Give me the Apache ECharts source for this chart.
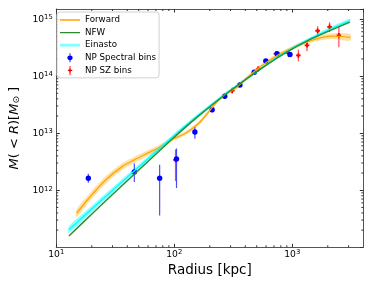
<!DOCTYPE html>
<html><head><meta charset="utf-8">
<script src="https://cdn.jsdelivr.net/npm/echarts@6/dist/echarts.min.js"></script>
<style>html,body{margin:0;padding:0;background:#fff}#c{width:374px;height:288px}</style>
</head><body><div id="c"></div>
<script>
// ---- axis ranges / ticks ----
const X_MIN = 10, X_MAX = 4000;
const Y_MIN = 1e11, Y_MAX = 1.5e15;
const xMajorTicks = [10, 100, 1000];
const yMajorTicks = [1e12, 1e13, 1e14, 1e15];

// ---- NP Spectral bins (blue) ----
const specR  = [18.7, 45.9, 75.2, 104.5, 149.6, 209.5, 268, 360, 476, 597, 744, 957];
const specM  = [1.62e12, 2.09e12, 1.62e12, 3.53e12, 1.05e13, 2.57e13, 4.43e13, 6.98e13, 1.17e14, 1.84e14, 2.47e14, 2.40e14];
const specLo = [1.35e12, 1.40e12, 3.6e11, 1.1e12, 8.0e12, 2.3e13, 4.0e13, 6.4e13, 1.07e14, 1.70e14, 2.28e14, 2.15e14];
const specHi = [1.95e12, 2.95e12, 2.8e12, 5.4e12, 1.28e13, 2.85e13, 4.9e13, 7.6e13, 1.28e14, 2.0e14, 2.67e14, 2.65e14];

// ---- NP SZ bins (red) ----
const szR  = [102.5, 310, 514, 726, 929, 1127, 1334, 1641, 2070, 2483];
const szM  = [3.4e12, 5.55e13, 1.33e14, 2.47e14, 2.54e14, 2.30e14, 3.47e14, 6.24e14, 7.32e14, 5.19e14];
const szLo = [1.45e12, 4.9e13, 1.18e14, 2.25e14, 2.15e14, 1.82e14, 2.72e14, 4.97e14, 5.9e14, 3.19e14];
const szHi = [5.2e12, 6.3e13, 1.5e14, 2.7e14, 2.95e14, 2.9e14, 4.24e14, 7.45e14, 8.75e14, 7.25e14];

// ---- Forward model (orange) ----
const fwdR = [14.9, 18.9, 26.2, 36.2, 45.9, 60.7, 78.7, 96.2, 124.5, 161.4, 196.3, 223.4, 271, 329, 485, 716, 1057, 1556, 2153, 3097];
const fwdM = [3.95e11, 7.24e11, 1.51e12, 2.59e12, 3.40e12, 4.55e12, 5.97e12, 7.82e12, 9.95e12, 1.49e13, 2.38e13, 3.34e13, 4.80e13, 6.11e13, 1.245e14, 2.19e14, 3.27e14, 4.41e14, 5.01e14, 4.79e14];
const fwdW = [0.07, 0.07, 0.065, 0.06, 0.055, 0.05, 0.045, 0.04, 0.035, 0.035, 0.035, 0.035, 0.035, 0.035, 0.035, 0.035, 0.035, 0.04, 0.05, 0.06]; // band half-width, dex

// ---- NFW (green) ----
const nfwR = [12.8, 19.95, 31.6, 56.2, 96.2, 158.5, 280, 501, 815, 1462, 3076];
const nfwM = [1.58e11, 3.80e11, 9.33e11, 2.82e12, 7.91e12, 1.95e13, 5.0e13, 1.2e14, 2.34e14, 4.52e14, 8.85e14];

// ---- Einasto (cyan) ----
const einR = [12.8, 19.95, 31.6, 56.2, 96.2, 158.5, 280, 501, 815, 1462, 3076];
const einM = [2.04e11, 4.68e11, 1.10e12, 3.16e12, 8.51e12, 2.04e13, 5.13e13, 1.2e14, 2.4e14, 4.68e14, 9.44e14];
const einW = [0.06, 0.055, 0.05, 0.045, 0.035, 0.03, 0.025, 0.025, 0.025, 0.03, 0.035];

const FONT = 'DejaVu Sans';
const xMinor = [], yMinor = [];
for (const d of [10, 100, 1000]) for (let k = 2; k <= 9; k++) if (k * d < X_MAX) xMinor.push(k * d);
for (const d of [1e11, 1e12, 1e13, 1e14]) for (let k = 2; k <= 9; k++) yMinor.push(k * d);

function pow10Label(majors) {
  return function (v) {
    for (const m of majors) {
      if (Math.abs(v / m - 1) < 1e-6) return '{b|10}{s|' + Math.round(Math.log10(m)) + '}';
    }
    return '';
  };
}
const labelRich = {
  b: { fontSize: 9.2, fontFamily: FONT, color: '#000', lineHeight: 10, padding: [1.5, 0, 0, 0], verticalAlign: 'bottom' },
  s: { fontSize: 6.8, fontFamily: FONT, color: '#000', lineHeight: 7, verticalAlign: 'top' }
};

function bandSeries(R, M, W, color) {
  return {
    type: 'custom', silent: true, clip: true, data: [[100, 1e13]],
    renderItem: function (params, api) {
      const up = [], dn = [];
      for (let i = 0; i < R.length; i++) {
        up.push(api.coord([R[i], M[i] * Math.pow(10, W[i])]));
        dn.push(api.coord([R[i], M[i] / Math.pow(10, W[i])]));
      }
      return { type: 'polygon', shape: { points: up.concat(dn.reverse()), smooth: 0.25 }, style: { fill: color } };
    }
  };
}
function lineSeries(name, R, M, color, width) {
  return {
    name: name, type: 'line', data: R.map((r, i) => [r, M[i]]), smooth: 0.3, symbol: 'none', showSymbol: false,
    lineStyle: { color: color, width: width }, itemStyle: { color: color }, silent: true
  };
}
function errSeries(name, R, M, Lo, Hi, color, marker) {
  return {
    name: name, type: 'custom', clip: true, itemStyle: { color: color },
    encode: { x: 0, y: 1 },
    data: R.map((r, i) => [r, M[i], Lo[i], Hi[i]]),
    renderItem: function (params, api) {
      const x = api.value(0);
      const p = api.coord([x, api.value(1)]);
      const a = api.coord([x, api.value(2)]);
      const b = api.coord([x, api.value(3)]);
      const ch = [{ type: 'line', shape: { x1: a[0], y1: a[1], x2: b[0], y2: b[1] }, style: { stroke: color, lineWidth: 1.2, opacity: 0.7 } }];
      if (marker === 'circle') {
        ch.push({ type: 'circle', shape: { cx: p[0], cy: p[1], r: 2.7 }, style: { fill: color } });
      } else {
        const L = 2.3, T = 0.9, cx = p[0], cy = p[1];
        ch.push({ type: 'polygon', shape: { points: [
          [cx - T, cy - L], [cx + T, cy - L], [cx + T, cy - T], [cx + L, cy - T], [cx + L, cy + T], [cx + T, cy + T],
          [cx + T, cy + L], [cx - T, cy + L], [cx - T, cy + T], [cx - L, cy + T], [cx - L, cy - T], [cx - T, cy - T]] },
          style: { fill: color } });
      }
      return { type: 'group', children: ch };
    }
  };
}
const tickStyle = { stroke: '#333', lineWidth: 1 };
const minorSeries = {
  type: 'custom', silent: true, clip: false, encode: { x: 0, y: 1 },
  data: xMinor.map(v => [v, 1e13, 0]).concat(yMinor.map(v => [100, v, 1])),
  renderItem: function (params, api) {
    const v = api.value(0), k = api.value(2), L = 2;
    if (k === 0) {
      const b = api.coord([v, Y_MIN]), t = api.coord([v, Y_MAX]);
      return { type: 'group', children: [
        { type: 'line', shape: { x1: b[0], y1: b[1], x2: b[0], y2: b[1] - L }, style: tickStyle },
        { type: 'line', shape: { x1: t[0], y1: t[1], x2: t[0], y2: t[1] + L }, style: tickStyle }] };
    } else {
      const yv = api.value(1);
      const l = api.coord([X_MIN, yv]), r = api.coord([X_MAX, yv]);
      return { type: 'group', children: [
        { type: 'line', shape: { x1: l[0], y1: l[1], x2: l[0] + L, y2: l[1] }, style: tickStyle },
        { type: 'line', shape: { x1: r[0], y1: r[1], x2: r[0] - L, y2: r[1] }, style: tickStyle }] };
    }
  }
};

const axisLineCommon = { show: true, onZero: false, lineStyle: { color: '#555', width: 1 } };
const axisTickCommon = { show: true, inside: true, length: 3.5, lineStyle: { color: '#333', width: 1 } };
const lineIcon = 'path://M0,4.2 L20,4.2 L20,5.8 L0,5.8 Z M0,0 L0.01,0 Z M0,10 L0.01,10 Z';

const chart = echarts.init(document.getElementById('c'), null, { renderer: 'canvas' });
chart.setOption({
  animation: false,
  backgroundColor: '#fff',
  grid: { left: 53.5, right: 10.7, top: 9, bottom: 40.7, containLabel: false },
  xAxis: [
    { type: 'log', logBase: 10, min: X_MIN, max: X_MAX, position: 'bottom',
      axisLine: axisLineCommon, axisTick: axisTickCommon, splitLine: { show: false }, minorTick: { show: false },
      axisLabel: { formatter: pow10Label(xMajorTicks), rich: labelRich, margin: 1.5, showMaxLabel: false },
      name: 'Radius [kpc]', nameLocation: 'middle', nameGap: 12,
      nameTextStyle: { fontSize: 13.5, fontFamily: FONT, color: '#000', verticalAlign: 'top' } },
    { type: 'log', logBase: 10, min: X_MIN, max: X_MAX, position: 'top',
      axisLine: axisLineCommon, axisTick: axisTickCommon, splitLine: { show: false }, axisLabel: { show: false } }
  ],
  yAxis: [
    { type: 'log', logBase: 10, min: Y_MIN, max: Y_MAX, position: 'left',
      axisLine: axisLineCommon, axisTick: axisTickCommon, splitLine: { show: false }, minorTick: { show: false },
      axisLabel: { formatter: pow10Label(yMajorTicks), rich: labelRich, margin: 3.5, showMinLabel: false, showMaxLabel: false },
      name: '{i|M}{n|( < }{i|R}{n|)[}{i|M}{d|⊙}{n| ]}', nameLocation: 'middle', nameGap: 18,
      nameTextStyle: { color: '#000', rich: {
        i: { fontSize: 13, fontFamily: FONT, fontStyle: 'italic', color: '#000' },
        n: { fontSize: 13, fontFamily: FONT, color: '#000' },
        d: { fontSize: 9, fontFamily: FONT, color: '#000', padding: [5, 0, 0, 0] } } } },
    { type: 'log', logBase: 10, min: Y_MIN, max: Y_MAX, position: 'right',
      axisLine: axisLineCommon, axisTick: axisTickCommon, splitLine: { show: false }, axisLabel: { show: false } }
  ],
  legend: {
    orient: 'vertical', left: 57, top: 12, padding: [3.5, 3, 3, 3], itemWidth: 20, itemHeight: 9, itemGap: 3.6,
    backgroundColor: 'rgba(255,255,255,0.85)', borderColor: '#d0d0d0', borderWidth: 1, borderRadius: 3,
    selectedMode: false, symbolKeepAspect: false,
    textStyle: { fontSize: 8.7, fontFamily: FONT, color: '#000', lineHeight: 9 },
    data: [
      { name: 'Forward', icon: lineIcon, itemStyle: { color: '#ffa500' } },
      { name: 'NFW', icon: lineIcon, itemStyle: { color: '#2a8c2a' } },
      { name: 'Einasto', icon: 'path://M0,3.5 L20,3.5 L20,6.5 L0,6.5 Z M0,0 L0.01,0 Z M0,10 L0.01,10 Z', itemStyle: { color: '#80ffff' } },
      { name: 'NP Spectral bins', icon: 'path://M9.55,0 L10.45,0 L10.45,10 L9.55,10 Z M12.6,5 A2.6,2.6 0 1 1 7.4,5 A2.6,2.6 0 1 1 12.6,5 Z M0,0 L0.01,0 Z M20,10 L19.99,10 Z' },
      { name: 'NP SZ bins', icon: 'path://M9.55,0 L10.45,0 L10.45,10 L9.55,10 Z M7.8,4.2 L12.2,4.2 L12.2,5.8 L7.8,5.8 Z M9.2,2.8 L10.8,2.8 L10.8,7.2 L9.2,7.2 Z M0,0 L0.01,0 Z M20,10 L19.99,10 Z' }
    ]
  },
  series: [
    bandSeries(fwdR, fwdM, fwdW, 'rgba(255,165,0,0.35)'),
    bandSeries(einR, einM, einW, 'rgba(0,255,255,0.45)'),
    lineSeries('Forward', fwdR, fwdM, '#ffa500', 1.3),
    lineSeries('Einasto', einR, einM, '#00ffff', 1.3),
    lineSeries('NFW', nfwR, nfwM, '#2a8c2a', 1.4),
    errSeries('NP SZ bins', szR, szM, szLo, szHi, '#ff0000', 'plus'),
    errSeries('NP Spectral bins', specR, specM, specLo, specHi, '#0000ff', 'circle'),
    minorSeries
  ]
});
</script>
</body></html>
